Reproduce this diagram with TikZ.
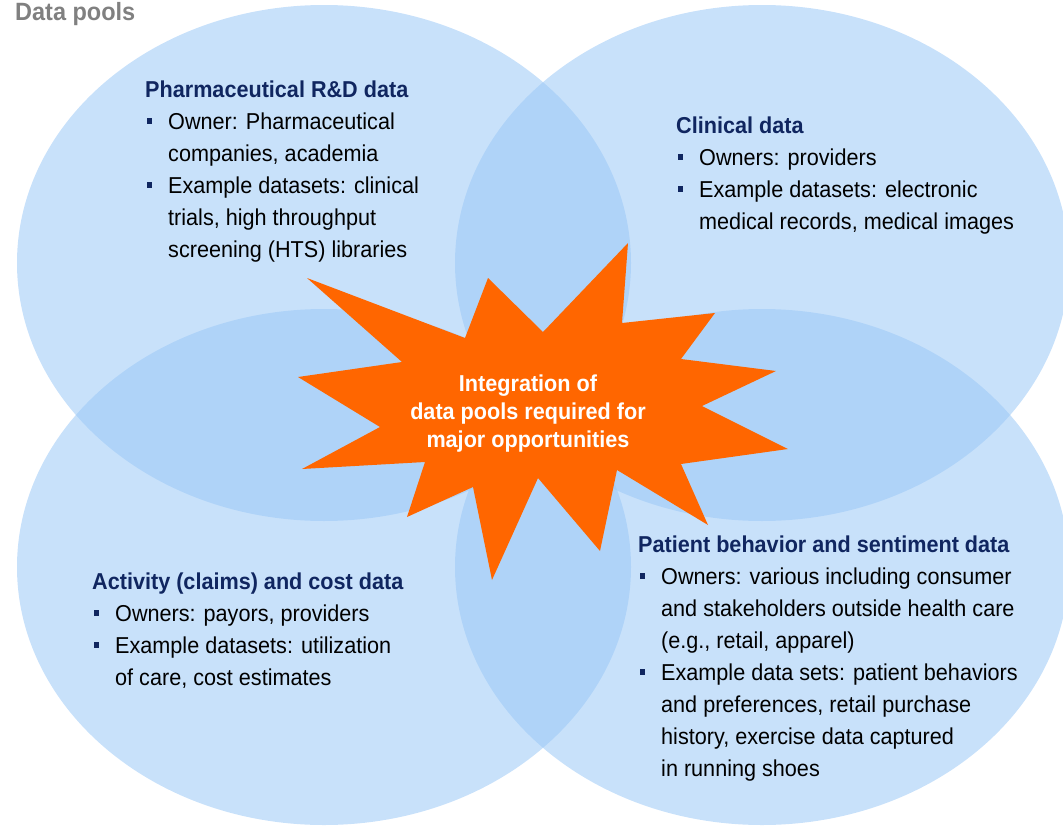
\documentclass[tikz,border=0pt]{standalone}
\usepackage{fontspec}
\setmainfont{Liberation Sans}[FakeStretch=0.94]
\usepackage{tikz}
\definecolor{poolblue}{RGB}{155,200,246}
\definecolor{burst}{RGB}{255,102,0}
\definecolor{navy}{RGB}{16,38,96}
\definecolor{titlegray}{RGB}{128,128,128}
\newcommand{\bul}{\makebox[23pt][l]{\hspace{2pt}{\color{navy}\rule[6pt]{5pt}{6pt}}}}
\newcommand{\ind}{\hspace{23pt}}
\newcommand{\head}[1]{{\bfseries\color{navy}#1}}

\begin{document}
\begin{tikzpicture}[x=1pt,y=-1pt,
    pool/.style={fill=poolblue,fill opacity=0.55},
    pooltext/.style={anchor=north west,inner sep=0pt,align=left,text=black,
      font=\fontsize{23}{32}\selectfont}]
          \useasboundingbox (0,0) rectangle (1063,827);
          % four data pools
          \fill[pool] (324,263) ellipse [x radius=307, y radius=258];
          \fill[pool] (762,263) ellipse [x radius=307, y radius=258];
          \fill[pool] (324,567) ellipse [x radius=307, y radius=258];
          \fill[pool] (762,567) ellipse [x radius=307, y radius=258];
          % title
          \node[anchor=base west,inner sep=0pt,text=titlegray,
            font=\fontsize{25}{30}\selectfont\bfseries] (title) at (15,20) {Data pools};
          % star in the middle
          \fill[burst] (307,278) -- (465,338) -- (488,278) -- (543,332)
            -- (628,243) -- (622,323) -- (715,313) -- (681,359)
            -- (776,371) -- (702,406) -- (788,449) -- (681,464)
            -- (708,525) -- (617,470) -- (600,551) -- (538,478)
            -- (492,580) -- (473,487) -- (407,517) -- (425,462)
            -- (302,469) -- (380,427) -- (298,377) -- (402,362) -- cycle;
          \node[align=center,text=white,inner sep=0pt,
            font=\fontsize{23}{28}\selectfont\bfseries] (hub) at (528,414)
            {Integration of\\data pools required for\\major opportunities};
          % pool texts
          \node[pooltext] (rnd) at (145,81) {\head{Pharmaceutical R\&D data}\\
            \bul Owner: Pharmaceutical\\
            \ind companies, academia\\
            \bul Example datasets: clinical\\
            \ind trials, high throughput\\
            \ind screening (HTS) libraries};
          \node[pooltext] (clinical) at (676,117) {\head{Clinical data}\\
            \bul Owners: providers\\
            \bul Example datasets: electronic\\
            \ind medical records, medical images};
          \node[pooltext] (cost) at (92,573) {\head{Activity (claims) and cost data}\\
            \bul Owners: payors, providers\\
            \bul Example datasets: utilization\\
            \ind of care, cost estimates};
          \node[pooltext] (patient) at (638,536) {\head{Patient behavior and sentiment data}\\
            \bul Owners: various including consumer\\
            \ind and stakeholders outside health care\\
            \ind (e.g., retail, apparel)\\
            \bul Example data sets: patient behaviors\\
            \ind and preferences, retail purchase\\
            \ind history, exercise data captured\\
            \ind in running shoes};
        \end{tikzpicture}
\end{document}
